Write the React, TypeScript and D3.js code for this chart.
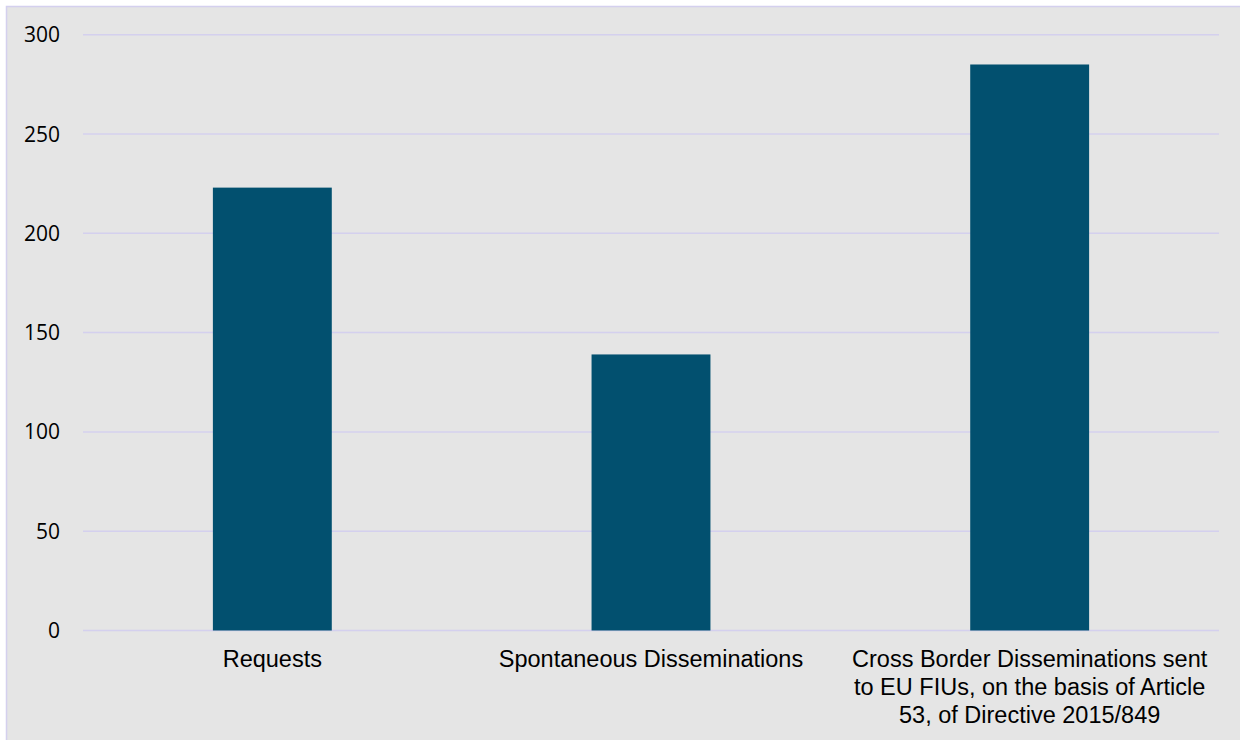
import React from "react";
import * as d3 from "d3";

const categories: string[][] = [
  ["Requests"],
  ["Spontaneous Disseminations"],
  ["Cross Border Disseminations sent", "to EU FIUs, on the basis of Article", "53, of Directive 2015/849"],
];
const values: number[] = [223, 139, 285];
const yTicks: number[] = [0, 50, 100, 150, 200, 250, 300];

export default function App() {
  const W = 1240, H = 740;
  const left = 83, right = 1219, top = 34.7, bottom = 630.5;
  const keys = categories.map((_, i) => String(i));
  const x = d3.scaleBand<string>().domain(keys).range([left, right]).paddingInner(0.686).paddingOuter(0.343);
  const y = d3.scaleLinear().domain([0, 300]).range([bottom, top]);
  const grid = "#D4D0EE";
  return (
    <svg width={W} height={H} style={{ position: "absolute", left: 0, top: 0 }}>
      <rect x={0} y={0} width={W} height={H} fill="#ffffff" />
      <rect x={6.5} y={6.5} width={W + 20} height={H + 20} fill="#E5E5E5" stroke={grid} strokeWidth={1.5} />
      {yTicks.map((t) => (
        <g key={t}>
          <line x1={left} x2={right} y1={y(t)} y2={y(t)} stroke={grid} strokeWidth={1.5} />
          <text x={60} y={y(t)} dy="0.36em" textAnchor="end" fontFamily="'Open Sans', sans-serif" fontSize={21} fill="#000">
            {t}
          </text>
        </g>
      ))}
      {values.map((v, i) => (
        <rect key={i} x={x(keys[i])!} y={y(v)} width={x.bandwidth()} height={y(0) - y(v)} fill="#02506F" />
      ))}
      {categories.map((lines, i) => (
        <text key={i} textAnchor="middle" fontFamily="'Liberation Sans', Arial, sans-serif" fontSize={23.5} fill="#000">
          {lines.map((l, j) => (
            <tspan key={j} x={x(keys[i])! + x.bandwidth() / 2} y={667 + j * 27.8}>
              {l}
            </tspan>
          ))}
        </text>
      ))}
    </svg>
  );
}
